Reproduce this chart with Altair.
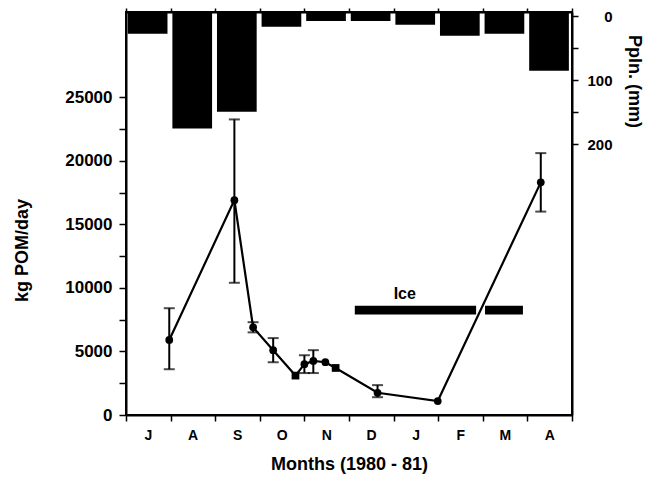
import altair as alt
import pandas as pd

# ---- data ----
month_letters = ["J", "A", "S", "O", "N", "D", "J", "F", "M", "A"]
month_index = list(range(10))
precip_mm = [27, 175, 149, 16, 7, 7, 13, 30, 27, 85]

pom_month = [0.97, 2.43, 2.85, 3.30, 3.80, 4.00, 4.20, 4.47, 4.70, 5.64, 6.99, 9.30]
pom_kg = [5900, 16900, 6900, 5100, 3100, 4000, 4250, 4150, 3700, 1750, 1100, 18300]
err_low = [3600, 10400, 6500, 4150, None, 3300, 3300, None, None, 1400, None, 16000]
err_high = [8400, 23250, 7300, 6050, None, 4700, 5100, None, None, 2350, None, 20600]
marker = ["c", "c", "c", "c", "s", "c", "c", "c", "s", "c", "c", "c"]

ice_start = [5.13, 8.05]
ice_end = [7.85, 8.90]
ice_low = [7900, 7900]
ice_high = [8600, 8600]
ice_label = ["Ice"]
ice_label_month = [6.25]
ice_label_kg = [9500]

FONT = "Liberation Sans"

precip = pd.DataFrame({
    "m0": [m + 0.04 for m in month_index],
    "m1": [m + 0.93 for m in month_index],
    "mm": precip_mm,
})
pom = pd.DataFrame({"m": pom_month, "kg": pom_kg, "lo": err_low, "hi": err_high, "shape": marker})
err = pom.dropna()
ice = pd.DataFrame({"s": ice_start, "e": ice_end, "lo": ice_low, "hi": ice_high})
ice_txt = pd.DataFrame({"t": ice_label, "m": ice_label_month, "kg": ice_label_kg})

xscale = alt.Scale(domain=[0, 10], nice=False, zero=False)
yscale = alt.Scale(domain=[0, 31700], nice=False)
pscale = alt.Scale(domain=[-7, 623], nice=False, zero=False, reverse=True)

label_expr = "[" + ",".join("'%s'" % l for l in month_letters) + ",''][datum.value]"

x_bottom = alt.Axis(
    values=list(range(11)), labelExpr=label_expr, labelOffset=22, title="Months (1980 - 81)",
    grid=False, tickSize=6, tickColor="black", tickWidth=1.5, domainColor="black", domainWidth=2,
    labelFont=FONT, labelFontSize=14, labelFontWeight="bold", labelColor="black", labelPadding=7,
    labelFlush=False,
    titleFont=FONT, titleFontSize=18, titleFontWeight="bold", titleColor="black", titlePadding=13,
    orient="bottom",
)
x_top = alt.Axis(
    values=list(range(11)), labels=False, title=None, grid=False, orient="top",
    tickSize=4, tickColor="black", tickWidth=1.5, domainColor="black", domainWidth=2,
)

bars = alt.Chart(precip).mark_rect(color="black").encode(
    x=alt.X("m0:Q", scale=xscale, axis=x_top),
    x2="m1",
    y=alt.Y("mm:Q", scale=pscale, axis=alt.Axis(
        orient="right", values=[0, 50, 100, 150, 200],
        labelExpr="datum.value % 100 == 0 ? format(datum.value, 'd') : ''",
        title="Ppln. (mm)", grid=False, tickSize=6, tickColor="black", tickWidth=1.5,
        domainColor="black", domainWidth=2,
        labelFont=FONT, labelFontSize=15, labelFontWeight="bold", labelColor="black",
        labelAlign="right", labelPadding=34,
        titleFont=FONT, titleFontSize=18, titleFontWeight="bold", titleColor="black",
        titleAngle=90, titleX=61, titleY=69, titleAlign="center", titleBaseline="middle",
    )),
    y2=alt.value(0),
)

y_left = alt.Axis(
    orient="left", values=[v * 2500 for v in range(11)],
    labelExpr="datum.value % 5000 == 0 ? format(datum.value, 'd') : ''",
    title="kg POM/day", grid=False, tickSize=7, tickColor="black", tickWidth=1.5,
    domainColor="black", domainWidth=2,
    labelFont=FONT, labelFontSize=17, labelFontWeight="bold", labelColor="black", labelPadding=7,
    titleFont=FONT, titleFontSize=18, titleFontWeight="bold", titleColor="black",
    titleX=-104, titleY=238, titleAlign="center", titleBaseline="middle",
)

base_x = alt.X("m:Q", scale=xscale, axis=x_bottom)

line = alt.Chart(pom).mark_line(color="black", strokeWidth=2.2).encode(
    x=base_x, y=alt.Y("kg:Q", scale=yscale, axis=y_left)
)
rules = alt.Chart(err).mark_rule(color="black", strokeWidth=2).encode(
    x="m:Q", y="lo:Q", y2="hi"
)
cap_lo = alt.Chart(err).mark_tick(color="black", orient="horizontal", size=11, thickness=2).encode(
    x="m:Q", y="lo:Q"
)
cap_hi = alt.Chart(err).mark_tick(color="black", orient="horizontal", size=11, thickness=2).encode(
    x="m:Q", y="hi:Q"
)
points = alt.Chart(pom).mark_point(filled=True, color="black", opacity=1).encode(
    x="m:Q", y="kg:Q",
    shape=alt.Shape("shape:N", scale=alt.Scale(domain=["c", "s"], range=["circle", "square"]), legend=None),
    size=alt.value(60),
)
ice_bar = alt.Chart(ice).mark_rect(color="black").encode(
    x="s:Q", x2="e", y="lo:Q", y2="hi"
)
ice_text = alt.Chart(ice_txt).mark_text(
    font=FONT, fontSize=16, fontWeight="bold", color="black", baseline="middle"
).encode(x="m:Q", y="kg:Q", text="t:N")

main = alt.layer(line, rules, cap_lo, cap_hi, points, ice_bar, ice_text)

chart = alt.layer(bars, main).resolve_scale(y="independent").resolve_axis(
    x="independent", y="independent"
).properties(
    width=446, height=403,
    autosize=alt.AutoSizeParams(type="none"),
    padding={"left": 118, "top": 4, "right": 79, "bottom": 60},
    background="white",
).configure_view(stroke="black", strokeWidth=2)

chart.save("out.html", embed_options={"renderer": "svg", "actions": False})
